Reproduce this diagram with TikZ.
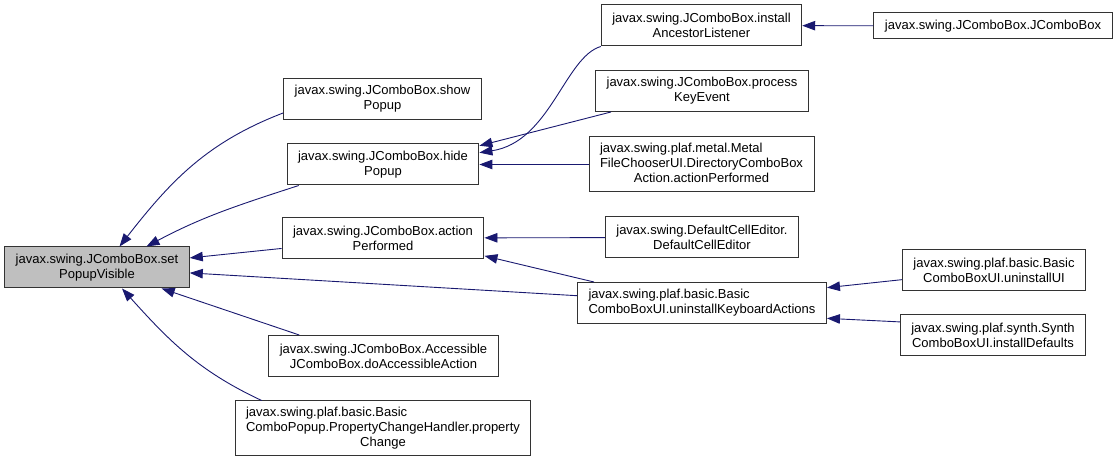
\documentclass[tikz,border=0pt]{standalone}
\usepackage{fontspec}
\setmainfont{Liberation Sans}
\usetikzlibrary{arrows.meta}
\definecolor{navy}{HTML}{191970}
\definecolor{rootfill}{HTML}{BFBFBF}
\definecolor{rim}{HTML}{333333}
\tikzset{
 fn/.style={draw=rim,line width=1pt,fill=white,inner xsep=11pt,inner ysep=1pt,
  minimum height=41pt,align=center,font=\fontsize{13}{15}\selectfont},
 fn1/.style={fn,minimum height=26pt},
 fn3/.style={fn,minimum height=55pt},
 call/.style={->,navy,line width=0.9pt}
}
\begin{document}
\begin{tikzpicture}[x=1pt,y=1pt,>={Triangle[length=13pt,width=9.5pt]}]
 \useasboundingbox (0,0) rectangle (1116,462);
 % root
 \node[fn,fill=rootfill] (spv) at (97,194.5) {javax.swing.JComboBox.set\\PopupVisible};
 % direct callers
 \node[fn] (show) at (382.5,363) {javax.swing.JComboBox.show\\Popup};
 \node[fn] (hide) at (383,297.5) {javax.swing.JComboBox.hide\\Popup};
 \node[fn] (act) at (383,224) {javax.swing.JComboBox.action\\Performed};
 \node[fn] (acc) at (383.5,106) {javax.swing.JComboBox.Accessible\\JComboBox.doAccessibleAction};
 \node[fn3] (pch) at (383,33.5) {\begin{tabular}{@{}l@{}}javax.swing.plaf.basic.Basic\\
  ComboPopup.PropertyChangeHandler.property\\\multicolumn{1}{@{}c@{}}{Change}\end{tabular}};
 % second level
 \node[fn] (ial) at (701.5,436.5) {javax.swing.JComboBox.install\\AncestorListener};
 \node[fn] (pke) at (702,371) {javax.swing.JComboBox.process\\KeyEvent};
 \node[fn3] (mfc) at (701.5,297.5) {\begin{tabular}{@{}l@{}}javax.swing.plaf.metal.Metal\\
  FileChooserUI.DirectoryComboBox\\\multicolumn{1}{@{}c@{}}{Action.actionPerformed}\end{tabular}};
 \node[fn] (dce) at (702,224.5) {javax.swing.DefaultCellEditor.\\DefaultCellEditor};
 \node[fn,align=left] (ukb) at (702,159) {javax.swing.plaf.basic.Basic\\ComboBoxUI.uninstallKeyboardActions};
 % third level
 \node[fn1] (jcb) at (993,436) {javax.swing.JComboBox.JComboBox};
 \node[fn] (uui) at (994,192) {javax.swing.plaf.basic.Basic\\ComboBoxUI.uninstallUI};
 \node[fn] (ids) at (993,127) {javax.swing.plaf.synth.Synth\\ComboBoxUI.installDefaults};
 % calls
 \draw[call] (show.188) to[out=201,in=52] (spv.43);
 \draw[call] (hide.194) to[out=198,in=28] (spv.23);
 \draw[call] (act) -- (spv);
 \draw[call] (ukb) -- (spv);
 \draw[call] (acc.166) -- (spv.-18);
 \draw[call] (pch.167) to[out=155,in=-48] (spv.320);
 \draw[call] (ial.south west) .. controls (565,405) and (550,320) .. (hide.7);
 \draw[call] (pke.193) -- (hide.11);
 \draw[call] (mfc) -- (hide);
 \draw[call] (jcb) -- (ial);
 \draw[call] (dce) -- (act);
 \draw[call] (ukb.169) -- (act.-10);
 \draw[call] (uui.186) -- (ukb.7);
 \draw[call] (ids.172) -- (ukb.-7);
\end{tikzpicture}
\end{document}
